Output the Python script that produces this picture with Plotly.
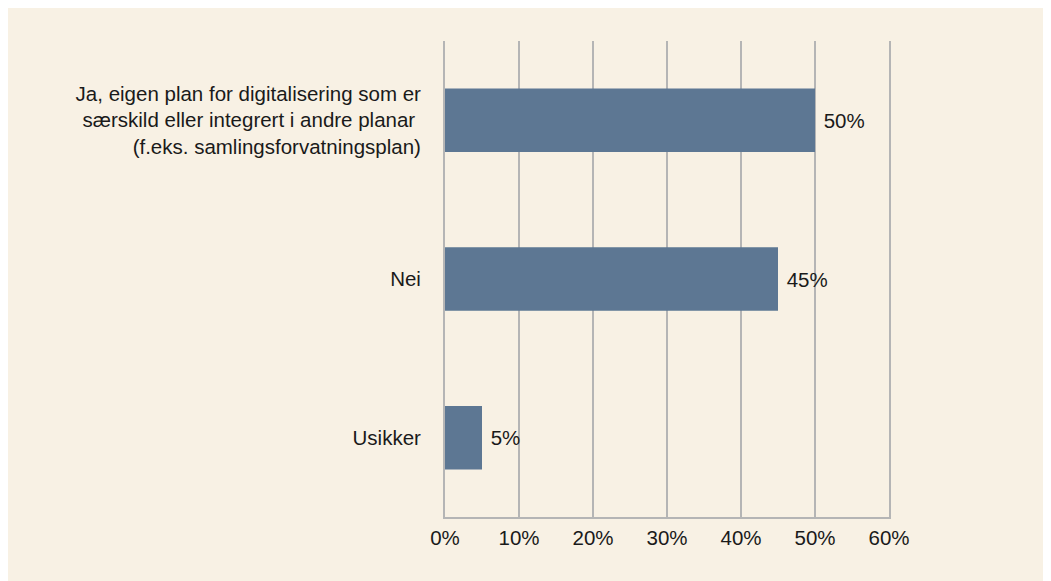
import plotly.graph_objects as go

categories = [
    "Ja, eigen plan for digitalisering som er<br>særskild eller integrert i andre planar <br>(f.eks. samlingsforvatningsplan)",
    "Nei",
    "Usikker",
]
values = [50, 45, 5]
value_labels = ["50%", "45%", "5%"]
tick_vals = [0, 10, 20, 30, 40, 50, 60]
tick_text = ["0%", "10%", "20%", "30%", "40%", "50%", "60%"]

BG = "#f8f1e4"
BAR = "#5d7793"
GRID = "#b5b5b5"
TXT = "#1a1a1a"
FONT = "Liberation Sans, Arial"
FS = 20.5

fig = go.Figure(
    go.Bar(
        y=categories,
        x=values,
        orientation="h",
        marker=dict(color=BAR, line=dict(width=0)),
        width=0.4,
        text=[" " + t for t in value_labels],
        textposition="outside",
        textfont=dict(family=FONT, size=FS, color=TXT),
        cliponaxis=False,
    )
)

# page body has an 8px margin; figure sized to fill the rest of the window
fig.update_layout(
    width=1043,
    height=573,
    margin=dict(l=437, r=162, t=33, b=64, pad=0),
    paper_bgcolor=BG,
    plot_bgcolor="rgba(0,0,0,0)",
    font=dict(family=FONT, size=FS, color=TXT),
    showlegend=False,
)

fig.update_xaxes(
    range=[0, 60],
    tickvals=tick_vals,
    ticktext=tick_text,
    showgrid=True,
    gridcolor=GRID,
    gridwidth=2,
    zeroline=False,
    showline=True,
    linecolor=GRID,
    linewidth=2,
    ticks="",
    ticklabelstandoff=1,
    tickfont=dict(size=FS, color=TXT),
    fixedrange=True,
)
fig.update_yaxes(
    categoryorder="array",
    categoryarray=categories[::-1],
    autorange=False,
    range=[-0.5, 2.5],
    showgrid=False,
    zeroline=False,
    showline=True,
    mirror=True,
    linecolor=GRID,
    linewidth=2,
    ticks="",
    ticklabelstandoff=18,
    tickfont=dict(size=FS, color=TXT),
    fixedrange=True,
)

fig.write_html("out.html")
